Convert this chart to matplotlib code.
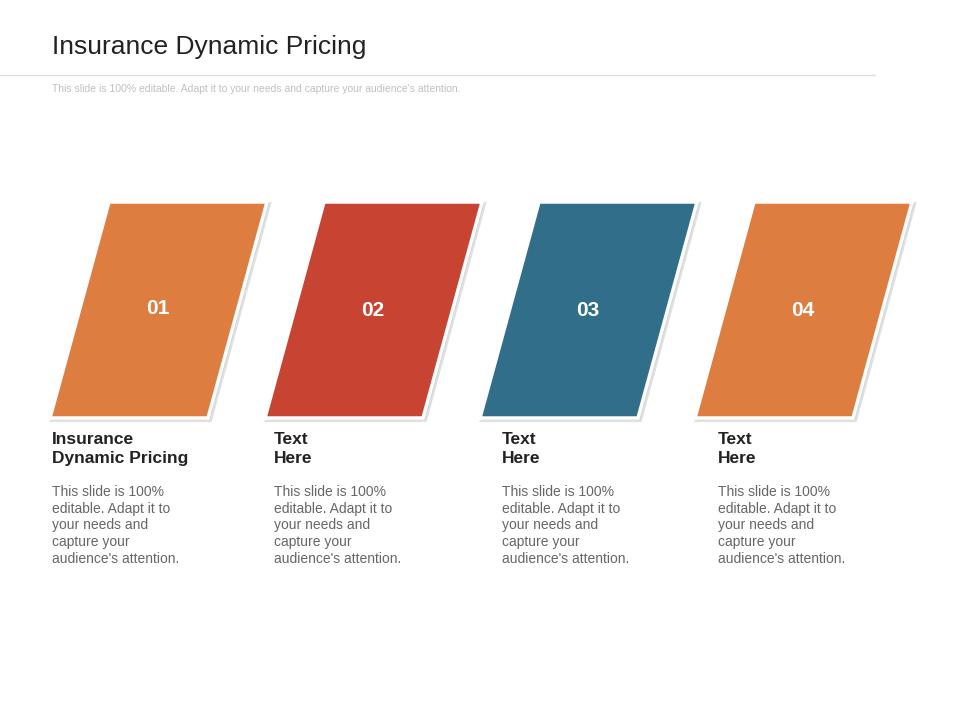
import matplotlib
matplotlib.use("Agg")
import matplotlib.pyplot as plt
from matplotlib.patches import Polygon

title = "Insurance Dynamic Pricing"
subtitle = "This slide is 100% editable. Adapt it to your needs and capture your audience's attention."
numbers = ["01", "02", "03", "04"]
headings = ["Insurance\nDynamic Pricing", "Text\nHere", "Text\nHere", "Text\nHere"]
bodies = ["This slide is 100%\neditable. Adapt it to\nyour needs and\ncapture your\naudience's attention."] * 4
colors = ["#DD7D3F", "#C74433", "#316E8A", "#DD7D3F"]
shape_x = [50, 265, 480, 695]
text_x = [52, 274, 502, 718]
num_y = [309, 311, 311, 311]

fig = plt.figure(figsize=(9.6, 7.2), dpi=100)
ax = fig.add_axes([0, 0, 1, 1])
ax.set_xlim(0, 960); ax.set_ylim(720, 0); ax.axis("off")

ax.text(52, 47, title, fontsize=19, color="#222222", va="center", family="Liberation Sans")
ax.plot([0, 875], [75, 75], color="#DDDDDD", lw=1)
ax.text(52, 89, subtitle, fontsize=7.5, color="#C0C0C0", va="center", family="Liberation Sans")

for i in range(4):
    x0 = shape_x[i]
    pts = [(x0, 418), (x0 + 158, 418), (x0 + 217, 202), (x0 + 59, 202)]
    sh = [(px + 2, py + 2) for px, py in pts]
    ax.add_patch(Polygon(sh, closed=True, facecolor="#BBBBBB", edgecolor="#CCCCCC", lw=3, alpha=0.6))
    ax.add_patch(Polygon(pts, closed=True, facecolor=colors[i], edgecolor="white", lw=2.5))
    ax.text(x0 + 108, num_y[i], numbers[i], fontsize=15, fontweight="bold", color="white",
            ha="center", va="center", family="Liberation Sans")
    ax.text(text_x[i], 432, headings[i], fontsize=12.5, fontweight="bold", color="#222222",
            va="top", linespacing=1.35, family="Liberation Sans")
    ax.text(text_x[i], 485, bodies[i], fontsize=10, color="#666666", va="top",
            linespacing=1.25, family="Liberation Sans")

fig.savefig("out.png", dpi=100)
